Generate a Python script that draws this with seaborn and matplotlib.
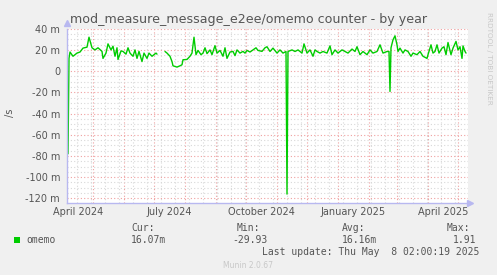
import numpy as np
import pandas as pd
import matplotlib
matplotlib.use("Agg")
import matplotlib.pyplot as plt
import matplotlib.dates as mdates
import matplotlib.transforms as mtrans
from matplotlib.ticker import MultipleLocator, FuncFormatter, FixedLocator
from matplotlib.patches import Rectangle
import seaborn as sns

# ---------------- data ----------------
start_date = "2024-04-05"
end_date = "2025-05-11"
day_offsets = [1, 2, 3, 6, 10, 13, 16, 20, 22, 25, 28, 31, 35, 36, 39, 41, 44, 46, 48, 50,
               51, 54, 56, 59, 61, 63, 66, 68, 70, 72, 75, 77, 80, 82, 85, 87, 89, 90, 91,
               98, 100, 103, 105, 106, 110, 113, 115, 116, 120, 123, 125, 127, 129, 131, 134,
               136, 138, 140, 143, 145, 148, 150, 153, 156, 158, 160, 163, 166, 168, 170, 173,
               176, 178, 180, 183, 186, 189, 191, 195, 198, 200, 203, 206, 210, 213, 216, 219,
               220, 221, 225, 228, 231, 235, 237, 240, 243, 246, 248, 250, 253, 256, 260, 263,
               265, 268, 271, 275, 278, 281, 285, 288, 290, 293, 296, 300, 303, 306, 310, 313,
               316, 320, 322, 323, 324, 326, 328, 330, 331, 333, 336, 338, 341, 344, 346, 350,
               353, 356, 360, 361, 364, 366, 368, 370, 372, 375, 377, 379, 381, 384, 386, 389,
               391, 393, 395, 396, 398, 399]
values_m = [-78, 12, 18, 14, 17, 18, 21.7, 22.6, 32, 22, 20, 22, 18.6, 12, 17, 25.7, 20, 23.5, 14, 22,
            11, 19, 18.6, 16, 22, 17, 14, 20, 12, 18.6, 9, 17, 12, 17, 14, 15.5, 17, 16, np.nan,
            18.5, 17, 14, 9, 5, 3.8, 5, 6, 10.7, 11, 14, 17, 32, 15.5, 19.5, 15.5,
            17, 22, 16.5, 20, 15.5, 24, 17, 19.5, 14, 22, 12, 18, 18.6, 14.6, 20, 17,
            18.6, 17, 19.5, 18, 20, 22, 19.5, 18.6, 22, 23, 18.5, 21.7, 17, 20, 17, 18.5,
            -116, 18.5, 20, 18.5, 20, 17, 25.7, 17, 20, 14, 20, 18.5, 17, 18.5, 17, 23.8,
            15.5, 20, 17, 20, 18.5, 17, 20.8, 18.5, 23, 15.5, 18.5, 15.5, 20, 17, 18.5, 24.8,
            17, 18.5, 18.5, -19.2, 22, 29.5, 33.3, 24.8, 18.5, 21.7, 17, 20, 18.5, 14, 17, 15.5,
            18.5, 14, 12, 15.5, 24.8, 17, 18.5, 24.8, 17, 21.7, 23, 15.5, 27, 15.5, 21.7, 28,
            20, 23, 12, 23.8, 18.5, 17]

y_ticks = [40, 20, 0, -20, -40, -60, -80, -100, -120]
month_labels = ["April 2024", "July 2024", "October 2024", "January 2025", "April 2025"]
month_label_dates = ["2024-04-16", "2024-07-16", "2024-10-16", "2025-01-16", "2025-04-16"]
series_name = "omemo"
legend_headers = ["Cur:", "Min:", "Avg:", "Max:"]
legend_values = ["16.07m", "-29.93", "16.16m", "1.91"]
title = "mod_measure_message_e2ee/omemo counter - by year"
last_update = "Last update: Thu May  8 02:00:19 2025"

# ---------------- frame ----------------
dates = pd.Timestamp(start_date) + pd.to_timedelta(day_offsets, unit="D")
vals = np.array(values_m, dtype=float)
df = pd.DataFrame({"date": dates, "value": vals})
df["segment"] = np.cumsum(np.isnan(vals))
df = df.dropna()

W, H = 497, 275
BG = "#F0F0F0"
TXT = "#555555"
GREEN = "#00CC00"
MAJ = "#F0A0A0"
MIN = "#D8D8D8"
AXC = "#B8B8F0"

sns.set_style("white")
plt.rcParams["font.family"] = ["DejaVu Sans"]

fig = plt.figure(figsize=(W / 100, H / 100), dpi=100, facecolor=BG)
ax = fig.add_axes([67 / W, 1 - 203 / H, (468 - 67) / W, (203 - 28.7) / H])
ax.set_facecolor("white")

sns.lineplot(data=df, x="date", y="value", units="segment", estimator=None,
             color=GREEN, lw=1.0, ax=ax, legend=False)

x0 = pd.Timestamp(start_date)
x1 = pd.Timestamp(end_date)
ax.set_xlim(x0, x1)
ax.set_ylim(-124.4, 40)

# grids
ax.xaxis.set_major_locator(mdates.MonthLocator())
ax.xaxis.set_minor_locator(FixedLocator(mdates.date2num(
    pd.date_range("2024-04-15", end_date, freq="14D"))))
ax.xaxis.set_major_formatter(FuncFormatter(lambda v, p: ""))
ax.yaxis.set_major_locator(FixedLocator(y_ticks))
ax.yaxis.set_minor_locator(MultipleLocator(5))
ax.yaxis.set_major_formatter(FuncFormatter(lambda v, p: "0" if abs(v) < 1e-9 else f"{v:.0f} m"))

ax.grid(which="minor", color=MIN, linestyle=(0, (1, 2)), linewidth=0.8)
ax.grid(which="major", color=MAJ, linestyle=(0, (1, 2)), linewidth=0.8)
ax.set_axisbelow(True)

ax.tick_params(axis="y", which="major", labelsize=7, labelcolor=TXT, length=2,
               color=MAJ, direction="inout", pad=4)
ax.tick_params(axis="y", which="minor", length=0)
ax.tick_params(axis="x", which="major", length=3, color=MAJ, direction="inout")
ax.tick_params(axis="x", which="minor", length=2, color=MIN, direction="inout")

for s in ["top", "right"]:
    ax.spines[s].set_visible(False)
for s in ["left", "bottom"]:
    ax.spines[s].set_color(AXC)
    ax.spines[s].set_linewidth(1.0)

# arrows
ax.plot([0], [1.035], marker="^", color=AXC, markersize=4, transform=ax.transAxes, clip_on=False)
ax.plot([1.005], [0], marker=">", color=AXC, markersize=4, transform=ax.transAxes, clip_on=False)

# month labels
trans = mtrans.blended_transform_factory(ax.transData, ax.transAxes)
for lab, d in zip(month_labels, month_label_dates):
    ax.text(mdates.date2num(pd.Timestamp(d)), -0.05, lab, transform=trans,
            ha="center", va="center", fontsize=7, color=TXT)

ax.set_xlabel("")
ax.set_ylabel("")


def fx(px):
    return px / W


def fy(py):
    return 1 - py / H


fig.text(fx(248.5), fy(19), title, ha="center", va="center", fontsize=9.1, color=TXT)
fig.text(fx(10), fy(113), "/s", ha="center", va="center", fontsize=7, color=TXT, rotation=90)
fig.text(fx(489), fy(58), "RRDTOOL / TOBI OETIKER", ha="center", va="center", fontsize=5.2,
         color="#C8C8C8", rotation=270)

mono = "DejaVu Sans Mono"
fig.patches.append(Rectangle((fx(14), fy(243)), 6 / W, 6 / H, transform=fig.transFigure,
                             facecolor=GREEN, edgecolor="none"))
fig.text(fx(26.5), fy(240), series_name, ha="left", va="center", fontsize=7, color=TXT, family=mono)

head_x = [131, 237, 342, 447]
val_x = [131, 232, 342, 453]
for hx, vx, h, v in zip(head_x, val_x, legend_headers, legend_values):
    fig.text(fx(hx), fy(228), h, ha="left", va="center", fontsize=7, color=TXT, family=mono)
    fig.text(fx(vx), fy(240), v, ha="left", va="center", fontsize=7, color=TXT, family=mono)

fig.text(fx(262), fy(252), last_update, ha="left", va="center", fontsize=7, color=TXT, family=mono)
fig.text(fx(248), fy(265), "Munin 2.0.67", ha="center", va="center", fontsize=5.5, color="#C8C8C8")

fig.savefig("out.png", dpi=100, facecolor=BG)
